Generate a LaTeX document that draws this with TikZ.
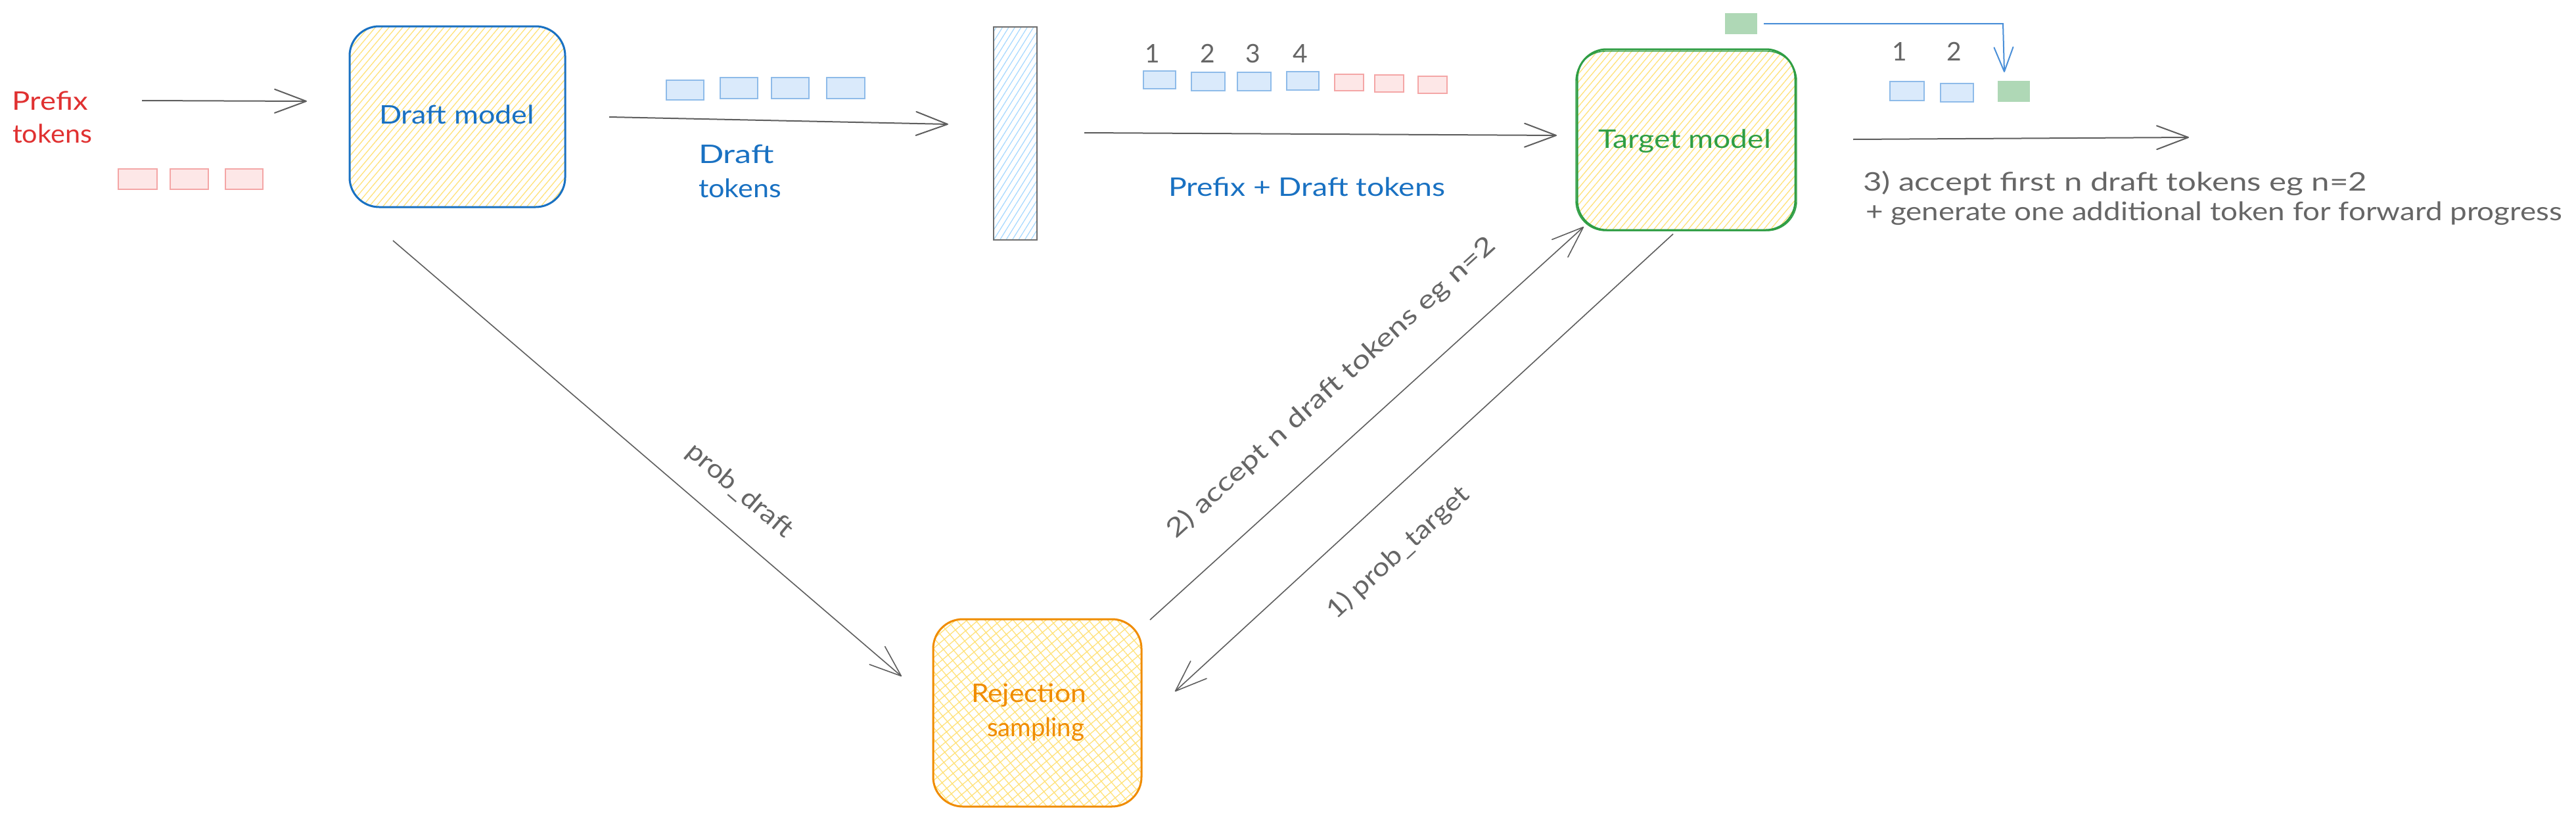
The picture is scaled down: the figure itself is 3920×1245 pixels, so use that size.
\documentclass[tikz,border=0pt]{standalone}
\usepackage{fontspec}
\setmainfont{Lato}
\usepackage{graphicx}
\usetikzlibrary{arrows.meta,patterns.meta}
\definecolor{cRed}{HTML}{E03131}
\definecolor{cBlue}{HTML}{1971C2}
\definecolor{cGreen}{HTML}{2F9E44}
\definecolor{cOrange}{HTML}{F08C00}
\definecolor{cGray}{HTML}{5E5E5E}
\definecolor{cText}{HTML}{666666}
\definecolor{hatchY}{HTML}{FFE27A}
\definecolor{hatchB}{HTML}{A5D8FF}
\definecolor{tokBlueF}{HTML}{DAEAFB}
\definecolor{tokBlueD}{HTML}{8EBBE9}
\definecolor{tokPinkF}{HTML}{FDE7E7}
\definecolor{tokPinkD}{HTML}{F4A6A6}
\definecolor{tokGreen}{HTML}{AFD8B6}
\definecolor{cLink}{HTML}{4A8FD8}
\newcommand\fitto[2]{\resizebox{#1pt}{\height}{#2}}
\begin{document}
\begin{tikzpicture}[x=1pt,y=-1pt,
  txt/.style={inner sep=0pt, outer sep=0pt, font=\fontsize{39}{49}\selectfont},
  arr/.style={draw=cGray, line width=2pt, -{Straight Barb[length=48pt,width=36pt,round]}},
  darr/.style={draw=cGray, line width=1.6pt, -{Straight Barb[length=48pt,width=36pt,round]}},
  tokb/.style={rectangle, inner sep=0pt, fill=tokBlueF, draw=tokBlueD, line width=2pt},
  tokp/.style={rectangle, inner sep=0pt, fill=tokPinkF, draw=tokPinkD, line width=2pt},
  tokg/.style={rectangle, inner sep=0pt, fill=tokGreen},
  model/.style={rectangle, inner sep=0pt, rounded corners=45pt, line width=3pt,
     pattern={Lines[angle=50,distance=8pt,line width=1.3pt]}, pattern color=hatchY},
]
\fill[white] (0,0) rectangle (3920,1245);
\useasboundingbox (0,0) rectangle (3920,1245);

% ---- boxes
\node[model, draw=cBlue, minimum width=328pt, minimum height=275pt] (draft) at (696,177.5) {};
\node[model, draw=cGreen, minimum width=332pt, minimum height=275pt] (target) at (2566,212.5) {};
\draw[cGreen, line width=1.4pt, rounded corners=45pt] (2398,78) rectangle (2734,351);
\node[rectangle, inner sep=0pt, draw=cOrange, line width=3pt, rounded corners=45pt,
      minimum width=317pt, minimum height=285pt,
      pattern={Hatch[angle=40,distance=11pt,line width=1.3pt]}, pattern color=hatchY] (rej) at (1578.5,1084.5) {};
\node[rectangle, inner sep=0pt, draw=cGray!90, line width=2.5pt,
      minimum width=66pt, minimum height=324pt,
      pattern={Lines[angle=58,distance=8pt,line width=1.2pt]}, pattern color=hatchB] (bar) at (1545,203) {};

% ---- texts
\node[txt, text=cRed, anchor=base west] (tPrefix1) at (19,167) {\fitto{115}{Prefix}};
\node[txt, text=cRed, anchor=base west] (tPrefix2) at (19,217) {\fitto{121}{tokens}};
\node[txt, text=cBlue, anchor=base] (tDraft) at (695,188) {\fitto{236}{Draft model}};
\node[txt, text=cBlue, anchor=base west] (tDT1) at (1063,248) {\fitto{115}{Draft}};
\node[txt, text=cBlue, anchor=base west] (tDT2) at (1063,300) {\fitto{126}{tokens}};
\node[txt, text=cBlue, anchor=base] (tPD) at (1988.5,298) {\fitto{421}{Prefix + Draft tokens}};
\node[txt, text=cGreen, anchor=base] (tTarget) at (2563.5,225) {\fitto{263}{Target model}};
\node[txt, text=cOrange, anchor=base] (tRej1) at (1565.5,1068) {\fitto{175}{Rejection}};
\node[txt, text=cOrange, anchor=base] (tRej2) at (1576,1120) {\fitto{148}{sampling}};
\node[txt, text=cText, anchor=base west] (tOut1) at (2835,290) {\fitto{767}{3) accept first n draft tokens eg n=2}};
\node[txt, text=cText, anchor=base west] (tOut2) at (2839,335) {\fitto{1060}{+ generate one additional token for forward progress}};
\node[txt, text=cText, rotate=-40.4] (tProbD) at (1125,747) {\fitto{199}{prob\_draft}};
\node[txt, text=cText, rotate=42.2] (tAcc) at (2026,590) {\fitto{660}{2) accept n draft tokens eg n=2}};
\node[txt, text=cText, rotate=42.6] (tProbT) at (2128,841) {\fitto{278}{1) prob\_target}};

% numbers
\node[txt, text=cText, anchor=base] (n1) at (1754,95) {1};
\node[txt, text=cText, anchor=base] (n2) at (1838,95) {2};
\node[txt, text=cText, anchor=base] (n3) at (1907,95) {3};
\node[txt, text=cText, anchor=base] (n4) at (1979,95) {4};
\node[txt, text=cText, anchor=base] (m1) at (2891,92) {1};
\node[txt, text=cText, anchor=base] (m2) at (2974,92) {2};

% ---- tokens
\node[tokp, minimum width=59pt, minimum height=31pt] (p1) at (209.5,272.5) {};
\node[tokp, minimum width=58pt, minimum height=31pt] (p2) at (288,272.5) {};
\node[tokp, minimum width=57pt, minimum height=31pt] (p3) at (371.5,272.5) {};

\node[tokb, minimum width=57pt, minimum height=30pt] (d1) at (1042.5,137) {};
\node[tokb, minimum width=57pt, minimum height=32pt] (d2) at (1124.5,134) {};
\node[tokb, minimum width=57pt, minimum height=32pt] (d3) at (1202.5,134) {};
\node[tokb, minimum width=58pt, minimum height=32pt] (d4) at (1287,134) {};

\node[tokb, minimum width=49pt, minimum height=27pt] (b1) at (1764.5,121.5) {};
\node[tokb, minimum width=51pt, minimum height=28pt] (b2) at (1838.5,124) {};
\node[tokb, minimum width=51pt, minimum height=28pt] (b3) at (1908.5,124) {};
\node[tokb, minimum width=49pt, minimum height=28pt] (b4) at (1982.5,123) {};
\node[tokp, minimum width=44pt, minimum height=25pt] (r1) at (2053,125.5) {};
\node[tokp, minimum width=44pt, minimum height=26pt] (r2) at (2114,127) {};
\node[tokp, minimum width=44pt, minimum height=26pt] (r3) at (2180,129) {};

\node[tokb, minimum width=52pt, minimum height=29pt] (o1) at (2902,138.5) {};
\node[tokb, minimum width=50pt, minimum height=28pt] (o2) at (2978,141) {};
\node[tokg, minimum width=49pt, minimum height=32pt] (o3) at (3064.5,139) {};
\node[tokg, minimum width=49pt, minimum height=32pt] (g0) at (2649.5,36) {};

% ---- connector end points
\coordinate (a1s) at (216,153);   \coordinate (a1e) at (467,154);
\coordinate (a2s) at (927,178);   \coordinate (a2e) at (1443,189);
\coordinate (a3s) at (1650,202);  \coordinate (a3e) at (2369,206);
\coordinate (a4s) at (2820,212);  \coordinate (a4e) at (3331,209);
\coordinate (a5s) at (598,366);   \coordinate (a5e) at (1372,1029);
\coordinate (a6s) at (1750,943);  \coordinate (a6e) at (2410,345);
\coordinate (a7s) at (2546,356);  \coordinate (a7e) at (1788,1052);
\coordinate (lkC) at (3048,36);   \coordinate (lkE) at (3050,110);

% ---- connectors
\draw[arr] (a1s) -- (a1e);
\draw[arr] (a2s) -- (a2e);
\draw[arr] (a3s) -- (a3e);
\draw[arr] (a4s) -- (a4e);
\draw[darr] (a5s) -- (a5e);
\draw[darr] (a6s) -- (a6e);
\draw[darr] (a7s) -- (a7e);
\draw[cLink, line width=2pt, -{Straight Barb[length=37pt,width=29pt,round]}]
  ([xshift=10pt]g0.east) -- (lkC) -- (lkE);
\end{tikzpicture}
\end{document}
